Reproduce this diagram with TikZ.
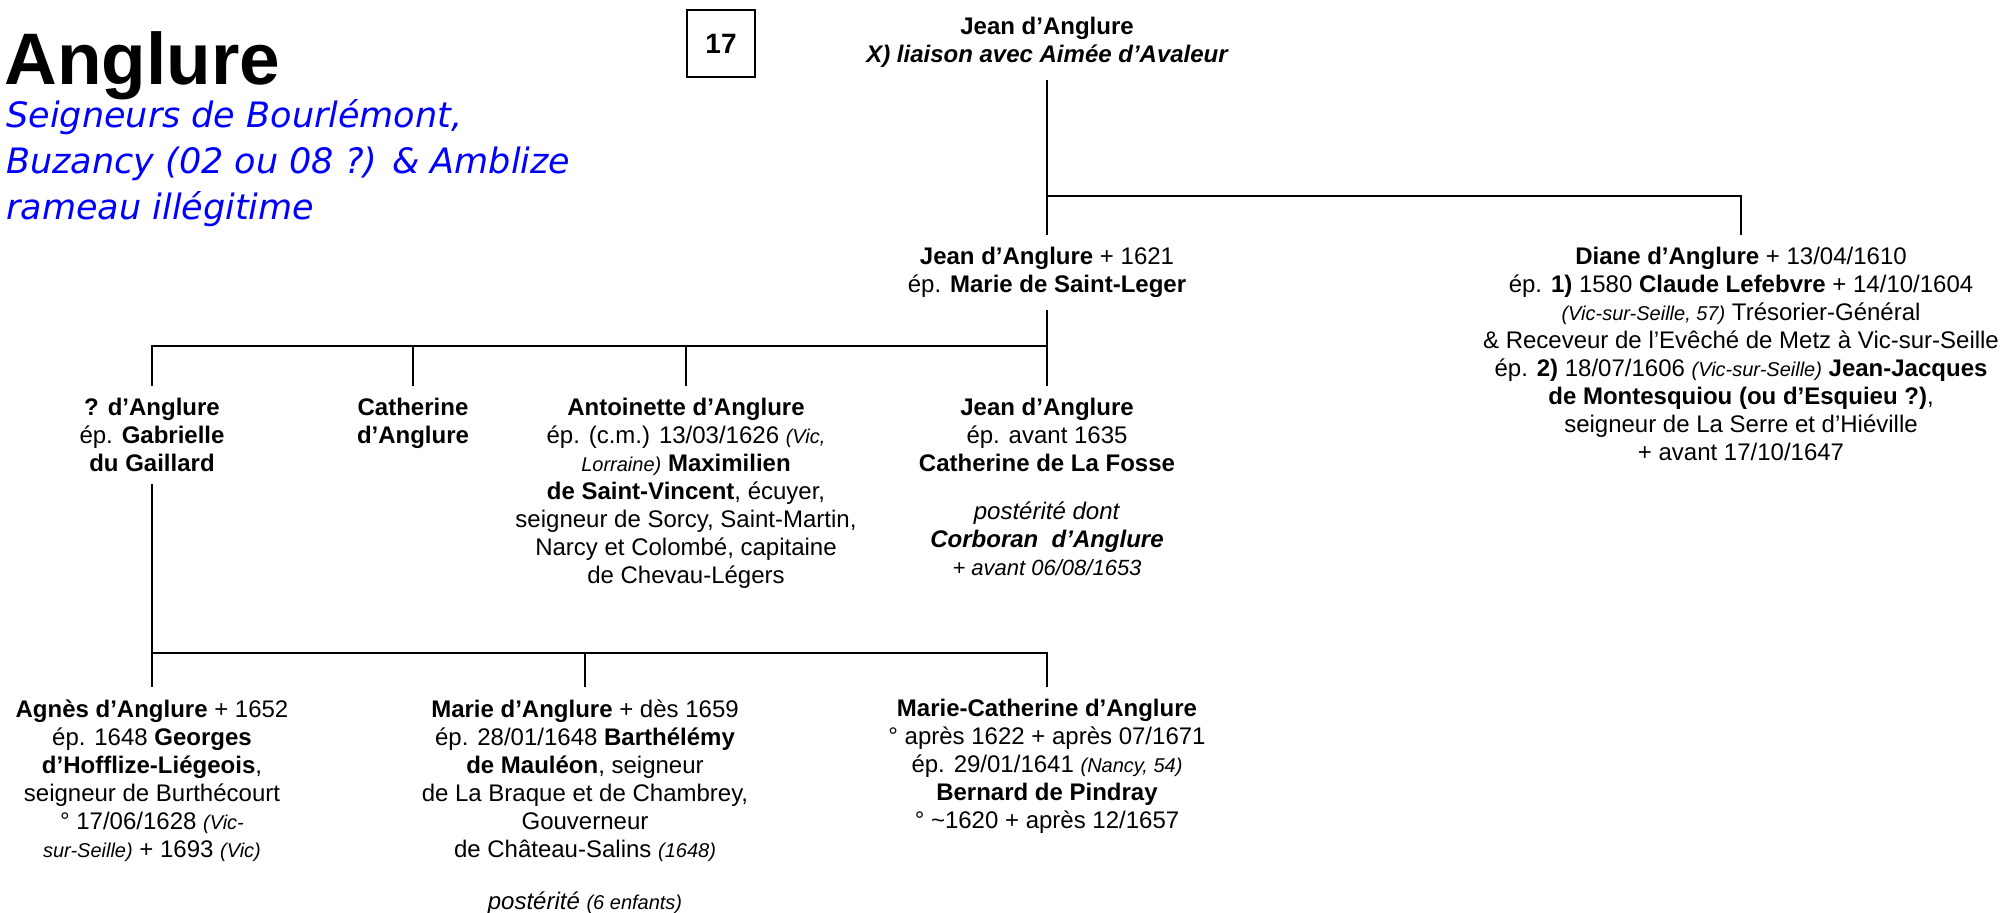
\documentclass[tikz,border=0pt]{standalone}
\usepackage{fontspec}
\setmainfont{Liberation Sans}
\newfontfamily\subfont{DejaVu Sans}
\usetikzlibrary{positioning}
\tikzset{
  pers/.style={align=center, anchor=north, inner xsep=2pt, inner ysep=6pt,
    font=\fontsize{12}{14}\selectfont},
  lnk/.style={line width=1pt},
}
\newcommand{\lieu}[1]{{\fontsize{10}{14}\selectfont\itshape #1}}

\begin{document}
\begin{tikzpicture}[x=0.5pt, y=-0.5pt]
\useasboundingbox (0,0) rectangle (2007,912);

% ── Titre ───────────────────────────────────────────────────
\node[anchor=base west, inner sep=0pt, font=\fontsize{36.5}{40}\selectfont\bfseries] (titre) at (4,84) {Anglure};
\node[anchor=north west, inner sep=0pt, align=left, text=blue,
  font=\subfont\itshape\fontsize{17.5}{23}\selectfont] (soustitre) at (6,99)
  {Seigneurs de Bourlémont,\\ Buzancy (02 ou 08 ?) \& Amblize\\ rameau illégitime};
\node[draw, line width=0.6pt, minimum width=34pt, minimum height=33.5pt, inner sep=0pt,
  font=\fontsize{14}{16}\selectfont\bfseries] (num) at (721,43.5) {17};

% ── Génération 1 ────────────────────────────────────────────
\node[pers] (top) at (1047,5) {\textbf{Jean d’Anglure}\\
  {\bfseries\itshape X) liaison avec Aimée d’Avaleur}};

% ── Génération 2 ────────────────────────────────────────────
\node[pers] (jean1621) at (1047,235) {\textbf{Jean d’Anglure} + 1621\\
  ép. \textbf{Marie de Saint-Leger}};
\node[pers] (diane) at (1741,235) {\textbf{Diane d’Anglure} + 13/04/1610\\
  ép. \textbf{1)} 1580 \textbf{Claude Lefebvre} + 14/10/1604\\
  \lieu{(Vic-sur-Seille, 57)} Trésorier-Général\\
  \& Receveur de l’Evêché de Metz à Vic-sur-Seille\\
  ép. \textbf{2)} 18/07/1606 \lieu{(Vic-sur-Seille)} \textbf{Jean-Jacques}\\
  \textbf{de Montesquiou (ou d’Esquieu ?)},\\
  seigneur de La Serre et d’Hiéville\\
  + avant 17/10/1647};

% ── Génération 3 ────────────────────────────────────────────
\node[pers] (child1) at (152,386) {\textbf{? d’Anglure}\\ ép. \textbf{Gabrielle}\\ \textbf{du Gaillard}};
\node[pers] (cath) at (413,386) {\textbf{Catherine}\\ \textbf{d’Anglure}};
\node[pers] (antoi) at (686,386) {\textbf{Antoinette d’Anglure}\\
  ép. (c.m.) 13/03/1626 \lieu{(Vic,}\\
  \lieu{Lorraine)} \textbf{Maximilien}\\
  \textbf{de Saint-Vincent}, écuyer,\\
  seigneur de Sorcy, Saint-Martin,\\
  Narcy et Colombé, capitaine\\
  de Chevau-Légers};
\node[pers] (jeanf) at (1047,386) {\textbf{Jean d’Anglure}\\ ép. avant 1635\\
  \textbf{Catherine de La Fosse}\\[10pt]
  \textit{postérité dont}\\ {\bfseries\itshape Corboran\ \ d’Anglure}\\
  {\fontsize{11}{14}\selectfont\itshape + avant 06/08/1653}};

% ── Génération 4 ────────────────────────────────────────────
\node[pers] (agnes) at (152,687) {\textbf{Agnès d’Anglure} + 1652\\
  ép. 1648 \textbf{Georges}\\ \textbf{d’Hofflize-Liégeois},\\
  seigneur de Burthécourt\\ ° 17/06/1628 \lieu{(Vic-}\\
  \lieu{sur-Seille)} + 1693 \lieu{(Vic)}};
\node[pers] (marie) at (585,687) {\textbf{Marie d’Anglure} + dès 1659\\
  ép. 28/01/1648 \textbf{Barthélémy}\\ \textbf{de Mauléon}, seigneur\\
  de La Braque et de Chambrey,\\ Gouverneur\\
  de Château-Salins \lieu{(1648)}\\[12pt]
  \textit{postérité} \lieu{(6 enfants)}};
\node[pers] (mcath) at (1047,687) {\textbf{Marie-Catherine d’Anglure}\\
  ° après 1622 + après 07/1671\\ ép. 29/01/1641 \lieu{(Nancy, 54)}\\
  \textbf{Bernard de Pindray}\\ ° \textasciitilde1620 + après 12/1657};

% ── Liens ───────────────────────────────────────────────────
\coordinate (j0) at (1047,196);
\coordinate (j1) at (1047,346);
\coordinate (j2) at (152,653);

\draw[lnk] (top.south) -- (j0) -- (jean1621.north);
\draw[lnk] (j0) -| (diane.north);
\draw[lnk] (jean1621.south) -- (j1) -| (child1.north);
\draw[lnk] (j1) -- (jeanf.north);
\foreach \n in {cath, antoi} \draw[lnk] (j1 -| \n.north) -- (\n.north);
\draw[lnk] (child1.south) -- (j2) -| (mcath.north);
\draw[lnk] (j2) -- (agnes.north);
\draw[lnk] (j2 -| marie.north) -- (marie.north);

\end{tikzpicture}
\end{document}
